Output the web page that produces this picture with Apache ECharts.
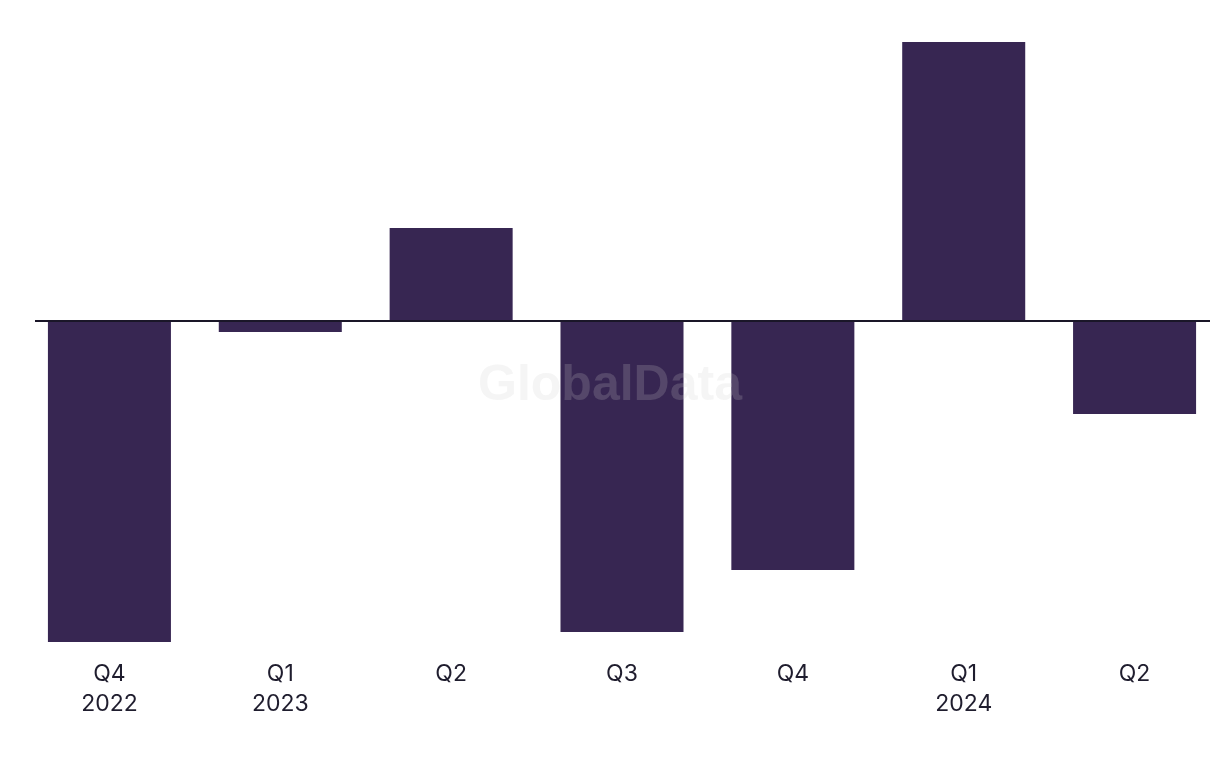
<!DOCTYPE html>
<html>
<head>
<meta charset="utf-8">
<script src="https://cdn.jsdelivr.net/npm/echarts@6/dist/echarts.min.js"></script>
<style>
html,body{margin:0;padding:0;background:#fff;}
#chart{width:1220px;height:768px;}
</style>
</head>
<body>
<div id="chart"></div>
<script>
var categories = ['Q4\n2022', 'Q1\n2023', 'Q2', 'Q3', 'Q4', 'Q1\n2024', 'Q2'];
var values = [-32.1, -1.1, 9.3, -31.1, -24.9, 27.9, -9.3];
var yMin = -32.1;
var yMax = 27.9;

var chart = echarts.init(document.getElementById('chart'));
chart.setOption({
  animation: false,
  backgroundColor: '#ffffff',
  grid: { left: 24, right: -3, top: 42, bottom: 126, containLabel: false },
  xAxis: {
    type: 'category',
    data: categories,
    axisLine: { show: false, onZero: false },
    axisTick: { show: false },
    axisLabel: {
      color: '#1f1d2e',
      fontFamily: 'Inter, "Liberation Sans", sans-serif',
      fontSize: 23,
      lineHeight: 30,
      margin: 17,
      interval: 0
    }
  },
  yAxis: {
    type: 'value',
    min: yMin,
    max: yMax,
    show: false,
    splitLine: { show: false }
  },
  series: [{
    type: 'bar',
    data: values,
    barWidth: '72%',
    itemStyle: { color: '#372652' },
    z: 2
  }]
});

var zeroY = chart.convertToPixel({ yAxisIndex: 0 }, 0);
chart.setOption({
  graphic: [
    {
      type: 'line',
      shape: { x1: 35, y1: zeroY, x2: 1210, y2: zeroY },
      style: { stroke: '#1a1628', lineWidth: 2 },
      z: 10
    },
    {
      type: 'text',
      left: 'center',
      top: 361,
      style: {
        text: 'GlobalData',
        fontFamily: '"Liberation Sans", Arial, sans-serif',
        fontWeight: 'bold',
        fontSize: 50,
        fill: 'rgba(204,204,204,0.2)'
      },
      z: 20
    }
  ]
});
</script>
</body>
</html>
